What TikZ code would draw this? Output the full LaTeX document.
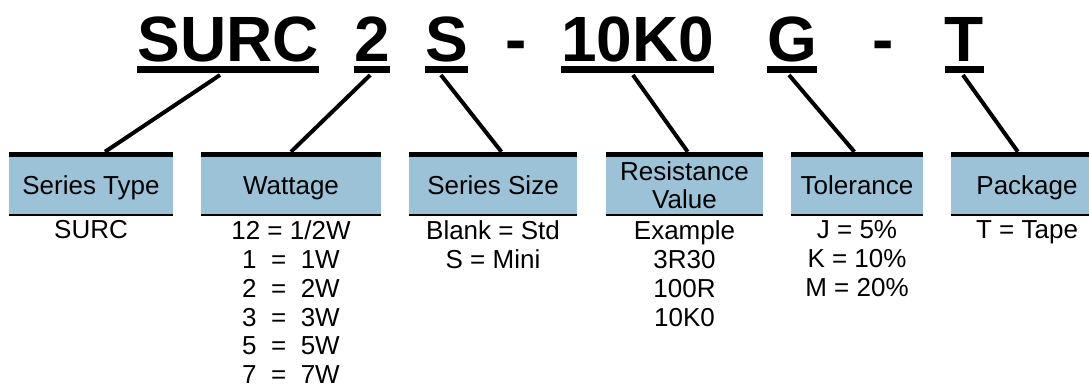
\documentclass[tikz,border=0pt]{standalone}
\usepackage{fontspec}
\setmainfont{Liberation Sans}
\usetikzlibrary{calc,positioning}
\definecolor{hdrblue}{RGB}{155,194,214}

\begin{document}
\begin{tikzpicture}[x=1pt,y=1pt,
  code/.style={font=\fontsize{64}{70}\selectfont\bfseries,inner sep=0pt,anchor=base},
  hdr/.style={fill=hdrblue,minimum height=57pt,inner sep=0pt,
    font=\fontsize{26}{28}\selectfont,align=center},
  onerow/.style={text height=18.6pt,text depth=0pt},
  items/.style={font=\fontsize{26}{28.8}\selectfont,align=center,inner sep=0pt},
  uline/.style={line width=6.5pt},
  leader/.style={line width=4pt}]
  \useasboundingbox (0,0) rectangle (1089,-386);
  \clip (0,0) rectangle (1089,-386);

  % part number
  \node[code] (surc)  at (228,-61)   {SURC};
  \node[code] (watt)  at (372,-61)   {2};
  \node[code] (size)  at (446.5,-61) {S};
  \node[code] (dasha) at (516,-61)   {-};
  \node[code] (value) at (637.5,-61) {10K0};
  \node[code] (tol)   at (792,-61)   {G};
  \node[code] (dashb) at (883,-61)   {-};
  \node[code] (pkg)   at (964.5,-61) {T};
  \foreach \t in {surc,watt,size,value,tol,pkg}
    \draw[uline] ($(\t.base west)+(0,-8.5)$) -- ($(\t.base east)+(0,-8.5)$);

  % headers
  \node[hdr,onerow,minimum width=164pt] (stype)   at (91,-185.5)   {Series Type};
  \node[hdr,onerow,minimum width=180pt] (wattage) at (291,-185.5)  {Wattage};
  \node[hdr,onerow,minimum width=168pt] (ssize)   at (493,-185.5)  {Series Size};
  \node[hdr,minimum width=157pt]        (resval)  at (684.5,-185.5) {Resistance\\Value};
  \node[hdr,onerow,minimum width=132pt] (toler)   at (857,-185.5)  {Tolerance};
  \node[hdr,onerow,minimum width=152pt] (pack)    at (1027,-185.5) {Package};
  \foreach \b in {stype,wattage,ssize,resval,toler,pack}{
    \draw[line width=5pt] ($(\b.north west)+(0,2.5)$) -- ($(\b.north east)+(0,2.5)$);
    \draw[line width=2pt] ($(\b.south west)+(0,-1)$) -- ($(\b.south east)+(0,-1)$);
  }

  % options
  \node[items,below=6.4pt of stype]   (stypelist) {SURC};
  \node[items,below=6.4pt of wattage] (wattlist)  {12 = 1/2W\\1\ \ =\ \ 1W\\2\ \ =\ \ 2W\\3\ \ =\ \ 3W\\5\ \ =\ \ 5W\\7\ \ =\ \ 7W};
  \node[items,below=6.4pt of ssize]   (sizelist)  {Blank = Std\\S = Mini};
  \node[items,below=6.4pt of resval]  (vallist)   {Example\\3R30\\100R\\10K0};
  \node[items,below=6.4pt of toler]   (tollist)   {J = 5\%\\K = 10\%\\M = 20\%};
  \node[items,below=6.4pt of pack]    (pklist)    {T = Tape};

  % leaders
  \foreach \t/\ft/\b/\fb in {surc/0.456/stype/0.585, watt/0.45/wattage/0.5,
      size/0.37/ssize/0.55, value/0.47/resval/0.52, tol/0.44/toler/0.48, pkg/0.46/pack/0.44}
    \draw[leader] ($(\t.base west)!\ft!(\t.base east)+(0,-14)$) --
      ($(\b.north west)!\fb!(\b.north east)+(0,5)$);
\end{tikzpicture}
\end{document}
